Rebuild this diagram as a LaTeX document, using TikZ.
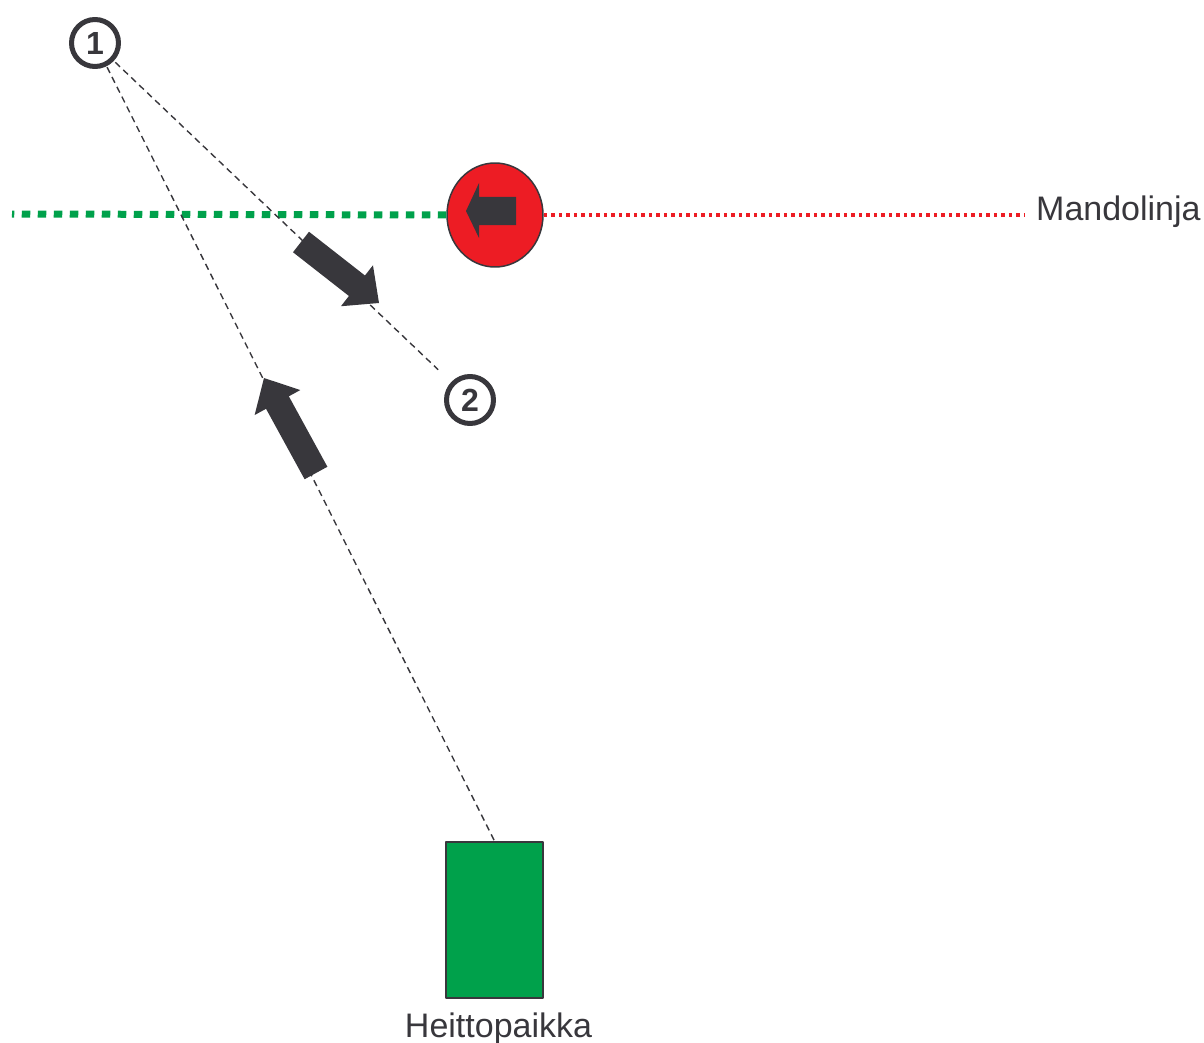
\documentclass[tikz,border=0pt]{standalone}
\usepackage{fontspec}
\setmainfont{Liberation Sans}
\usetikzlibrary{calc,positioning,shapes.geometric}
\definecolor{morko}{HTML}{38373C}
\definecolor{punainen}{HTML}{ED1C24}
\definecolor{vihrea}{HTML}{00A14B}
\tikzset{
  ympyra/.style={circle,draw=morko,line width=5pt,minimum size=47pt,inner sep=0pt,font=\fontsize{32}{32}\selectfont\bfseries,text=morko},
  katko/.style={draw=morko,line width=1.4pt,dash pattern=on 6.5pt off 4.5pt},
  teksti/.style={font=\fontsize{34}{34}\selectfont,text=morko,inner sep=3pt}
}
\begin{document}
\begin{tikzpicture}[x=1pt,y=-1pt,line join=round]
\useasboundingbox (0,0) rectangle (1204,1043);
\def\nuoli(#1,#2){%
  \coordinate (h) at ($(#2)!28pt!(#1)$);
  \fill[morko] ($(#1)!13pt!90:(#2)$) -- ($(h)!13pt!90:(#2)$) -- ($(h)!26pt!90:(#2)$) -- (#2)
    -- ($(h)!26pt!-90:(#2)$) -- ($(h)!13pt!-90:(#2)$) -- ($(#1)!13pt!-90:(#2)$) -- cycle;}
\node[ympyra] (n1) at (95,43) {1};
\node[ympyra] (n2) at (470,400) {2};
\node[draw=morko,line width=2pt,fill=vihrea,minimum width=97pt,minimum height=156pt,inner sep=0pt] (heitto) at (494.5,920) {};
\node[teksti,below=11pt of heitto,xshift=4pt] (hlabel) {Heittopaikka};
\node[ellipse,draw=morko,line width=1.5pt,fill=punainen,minimum width=96pt,minimum height=104pt,inner sep=0pt] (merkki) at (495,215) {};
\node[teksti,anchor=base west] (mando) at (1033,221) {Mandolinja};
\draw[vihrea,line width=7pt,dash pattern=on 8.5pt off 7.5pt] (merkki.west) -- (12,214);
\draw[punainen,line width=3.5pt,dash pattern=on 3.3pt off 4.2pt,shorten >=8pt] (merkki.east) -- (merkki.east -| mando.west);
\fill[morko] (466,211) -- (479,183) -- (479,197) -- (516,197) -- (516,225) -- (479,225) -- (479,238) -- cycle;
\draw[katko,shorten <=1pt] (n1) -- (heitto.north);
\draw[katko,shorten <=2pt,shorten >=18pt] (n1) -- (n2);
\coordinate (a1) at (316,473);
\coordinate (b1) at (264,378);
\coordinate (a2) at (301,242);
\coordinate (b2) at (379,303);
\nuoli(a1,b1)
\nuoli(a2,b2)
\end{tikzpicture}
\end{document}
